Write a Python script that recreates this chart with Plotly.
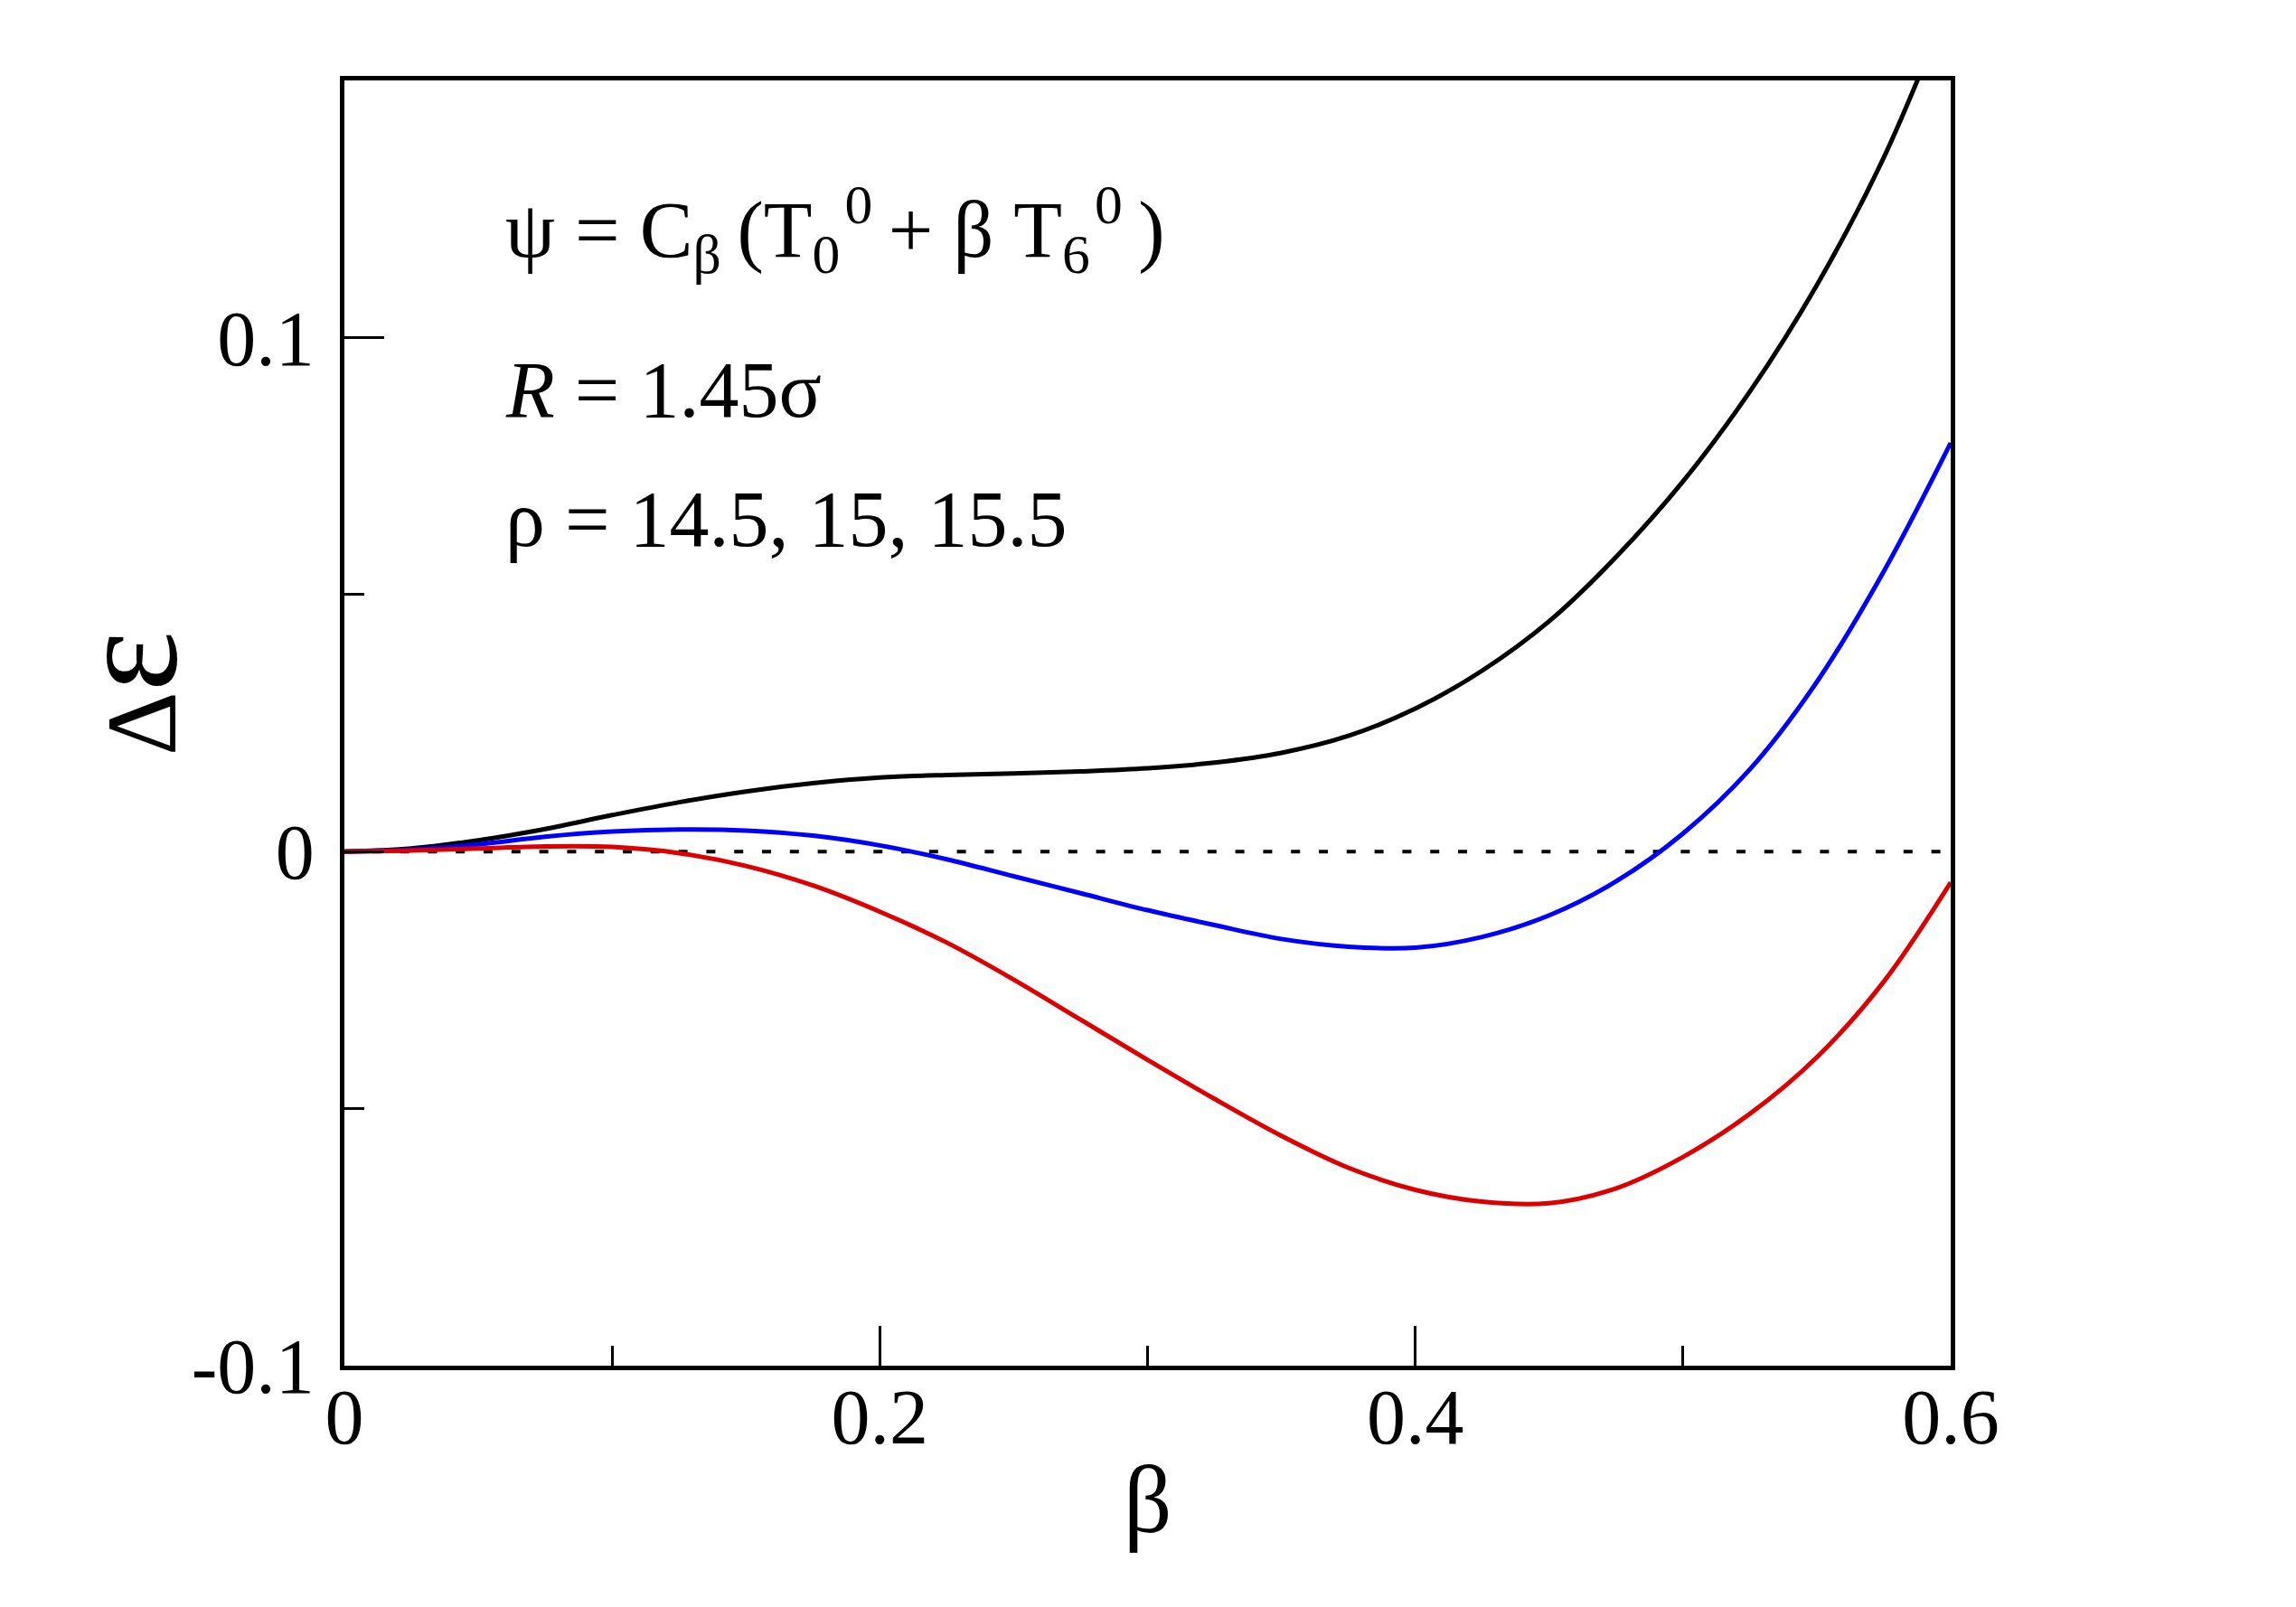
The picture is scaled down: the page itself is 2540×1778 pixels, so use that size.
import plotly.graph_objects as go

# beta grid
beta = [0.0, 0.025, 0.05, 0.075, 0.1, 0.125, 0.15, 0.175, 0.2, 0.225, 0.25, 0.275,
        0.3, 0.325, 0.35, 0.375, 0.4, 0.425, 0.45, 0.475, 0.5, 0.525, 0.55, 0.575, 0.6]

# Delta epsilon for rho = 14.5 (black), 15 (blue), 15.5 (red)
de_rho_14_5 = [0.0, 0.0006, 0.0022, 0.0044, 0.0071, 0.0096, 0.0117, 0.0133, 0.0144, 0.0149,
               0.0152, 0.0156, 0.0162, 0.0173, 0.0192, 0.0225, 0.0278, 0.0352, 0.0448, 0.0573,
               0.0720, 0.0895, 0.1102, 0.1350, 0.1660]
de_rho_15 = [0.0, 0.0004, 0.0014, 0.0029, 0.0039, 0.0043, 0.0041, 0.0031, 0.0012, -0.0015,
             -0.0048, -0.0081, -0.0114, -0.0143, -0.0170, -0.0185, -0.0187, -0.0166, -0.0124, -0.0058,
             0.0035, 0.0160, 0.0330, 0.0545, 0.0795]
de_rho_15_5 = [0.0, 0.0002, 0.0006, 0.0010, 0.0009, -0.0003, -0.0028, -0.0066, -0.0117, -0.0177,
               -0.0249, -0.0327, -0.0405, -0.0481, -0.0553, -0.0615, -0.0658, -0.0681, -0.0684, -0.0655,
               -0.0594, -0.0510, -0.0400, -0.0253, -0.0060]

x_tickvals = [0, 0.2, 0.4, 0.6]
x_ticktext = ["0", "0.2", "0.4", "0.6"]
x_minor = [0.1, 0.3, 0.5]
y_tickvals = [-0.1, 0.0, 0.1]
y_ticktext = ["-0.1", "0", "0.1"]
y_minor = [-0.05, 0.05]

FONT = "Liberation Serif, Times New Roman, serif"

fig = go.Figure()

# zero reference line
fig.add_trace(go.Scatter(x=[0, 0.6], y=[0, 0], mode="lines",
                         line=dict(color="black", width=4, dash="10px,20.8px"),
                         showlegend=False, hoverinfo="skip"))

for ys, col in [(de_rho_14_5, "#000000"), (de_rho_15, "#0000ff"), (de_rho_15_5, "#dd0000")]:
    fig.add_trace(go.Scatter(x=beta, y=ys, mode="lines",
                             line=dict(color=col, width=5, shape="spline", smoothing=1.0),
                             showlegend=False))

axis_common = dict(showline=True, linewidth=5, linecolor="black", mirror=True,
                   ticks="inside", ticklen=44, tickwidth=2.5, tickcolor="black",
                   showgrid=False, zeroline=False,
                   tickfont=dict(family=FONT, size=86, color="black"))

fig.update_xaxes(range=[0, 0.6], tickvals=x_tickvals, ticktext=x_ticktext,
                 minor=dict(tickvals=x_minor, ticks="inside", ticklen=22, tickwidth=2.5, tickcolor="black"),
                 ticklabelstandoff=-22,
                 **axis_common)
fig.update_yaxes(range=[-0.1, 0.15], tickvals=y_tickvals, ticktext=y_ticktext,
                 minor=dict(tickvals=y_minor, ticks="inside", ticklen=22, tickwidth=2.5, tickcolor="black"),
                 ticklabelstandoff=11,
                 **axis_common)

# axis titles
fig.add_annotation(x=0.5, y=-0.1041, xref="paper", yref="paper", xanchor="center", yanchor="middle",
                   text="β", showarrow=False,
                   font=dict(family=FONT, size=105, color="black"))
fig.add_annotation(x=-0.1356, y=0.5232, xref="paper", yref="paper", xanchor="center", yanchor="middle",
                   text="Δ<span style='font-size:160px'>ε</span>", textangle=-90, showarrow=False,
                   font=dict(family=FONT, size=110, color="black"))

ann_font = dict(family=FONT, size=88, color="black")
fig.add_annotation(x=0.0594, y=0.1211, xref="x", yref="y", xanchor="left", yanchor="middle",
                   text="ψ = C<sub>β</sub>\u2009(T<sub>0</sub><sup>\u200a0</sup>\u2009+ β T<sub>6</sub><sup>\u200a0</sup>\u2009)",
                   showarrow=False, font=ann_font)
fig.add_annotation(x=0.0594, y=0.0898, xref="x", yref="y", xanchor="left", yanchor="middle",
                   text="<i>R</i> = 1.45σ", showarrow=False, font=ann_font)
fig.add_annotation(x=0.0594, y=0.0647, xref="x", yref="y", xanchor="left", yanchor="middle",
                   text="ρ = 14.5, 15, 15.5", showarrow=False, font=ann_font)

fig.update_layout(width=2540, height=1778,
                  margin=dict(l=381, r=382, t=89, b=267, autoexpand=False),
                  paper_bgcolor="white", plot_bgcolor="white",
                  font=dict(family=FONT, color="black"))

fig.write_html("out.html")
